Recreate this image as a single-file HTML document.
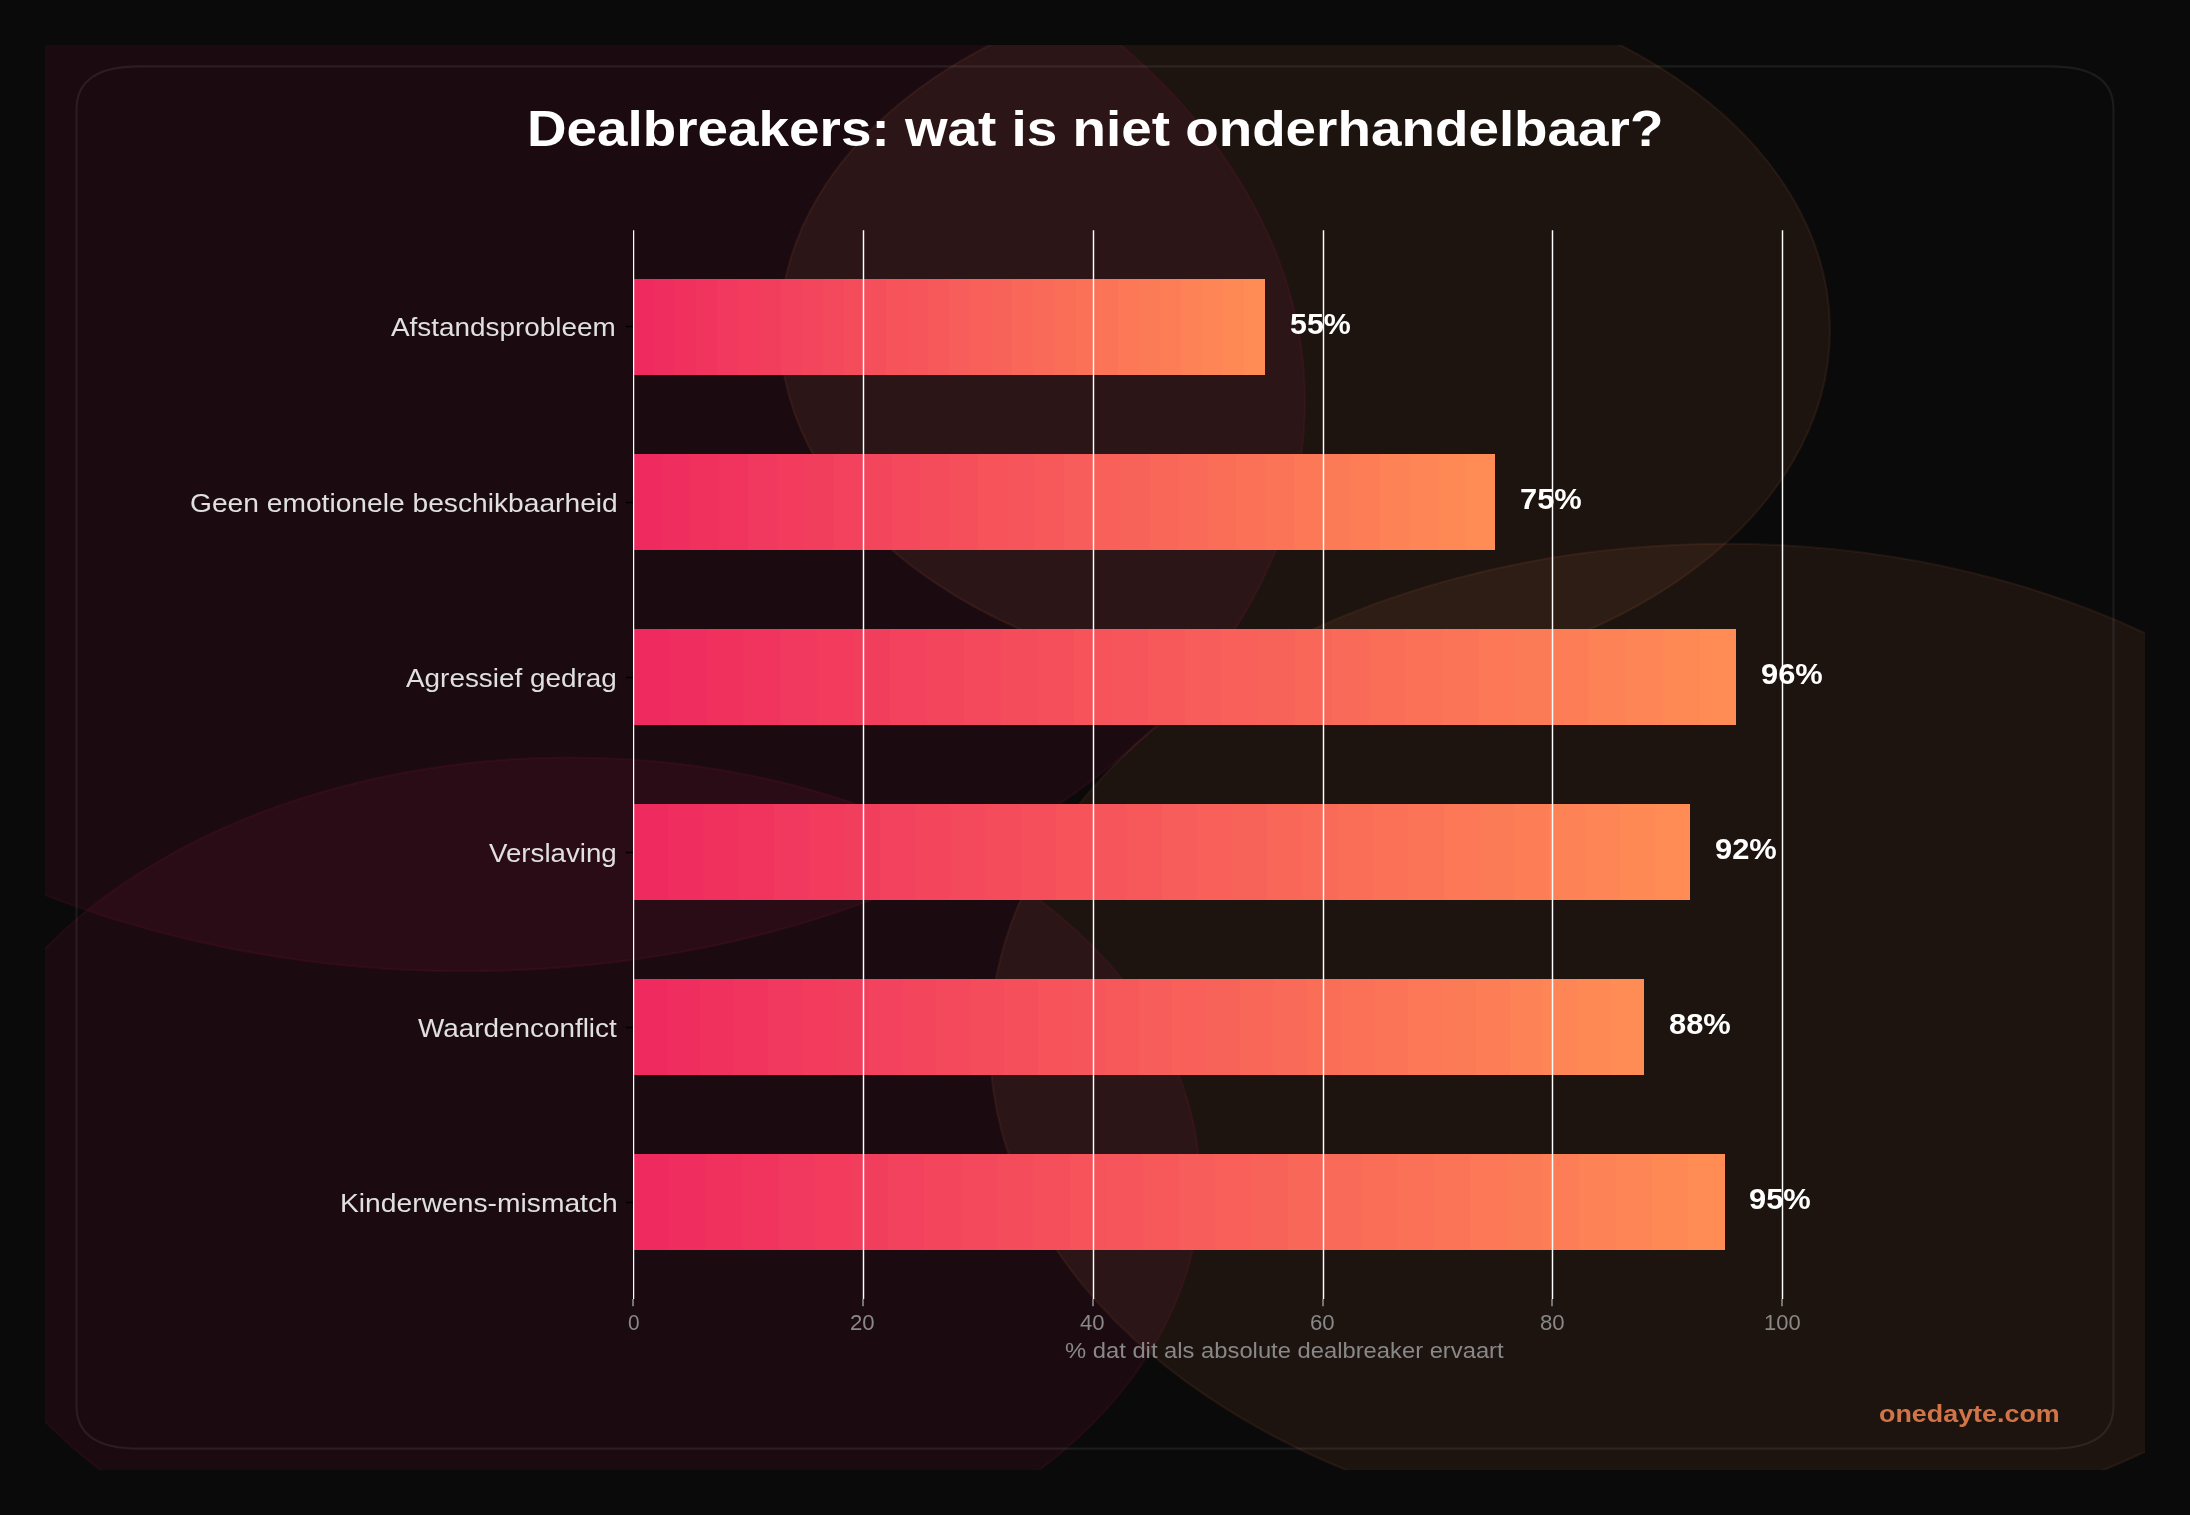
<!DOCTYPE html>
<html><head><meta charset="utf-8"><title>Dealbreakers</title><style>
html,body{margin:0;padding:0;background:#0a0a0a;width:2190px;height:1515px;overflow:hidden}
svg{display:block;will-change:transform}
text{font-family:"Liberation Sans",sans-serif}
</style></head><body>
<svg width="2190" height="1515" viewBox="0 0 2190 1515">
<defs><clipPath id="c"><rect x="45" y="45" width="2100" height="1425"/></clipPath></defs>
<rect x="0" y="0" width="2190" height="1515" fill="#0a0a0a"/>
<g clip-path="url(#c)">
<ellipse cx="465.00" cy="401.25" rx="840.00" ry="570.00" fill="#e91e63" fill-opacity="0.08" stroke="#e91e63" stroke-opacity="0.08" stroke-width="2.083"/>
<ellipse cx="570.00" cy="1185.00" rx="630.00" ry="427.50" fill="#e91e63" fill-opacity="0.08" stroke="#e91e63" stroke-opacity="0.08" stroke-width="2.083"/>
<ellipse cx="1725.00" cy="1042.50" rx="735.00" ry="498.75" fill="#ff8c55" fill-opacity="0.08" stroke="#ff8c55" stroke-opacity="0.08" stroke-width="2.083"/>
<ellipse cx="1305.00" cy="330.00" rx="525.00" ry="356.25" fill="#ff8c55" fill-opacity="0.08" stroke="#ff8c55" stroke-opacity="0.08" stroke-width="2.083"/>
</g>
<path d="M139.500,1448.625 L2050.500,1448.625 Q2113.500,1448.625 2113.500,1405.875 L2113.500,109.125 Q2113.500,66.375 2050.500,66.375 L139.500,66.375 Q76.500,66.375 76.500,109.125 L76.500,1405.875 Q76.500,1448.625 139.500,1448.625 Z" fill="none" stroke="#ffffff" stroke-opacity="0.075" stroke-width="2.083"/>
<g shape-rendering="crispEdges">
<rect x="633" y="279" width="21" height="96" fill="#ef2a5f"/>
<rect x="654" y="279" width="21" height="96" fill="#f02d5f"/>
<rect x="675" y="279" width="21" height="96" fill="#f0315e"/>
<rect x="696" y="279" width="21" height="96" fill="#f1345e"/>
<rect x="717" y="279" width="21" height="96" fill="#f1385e"/>
<rect x="738" y="279" width="21" height="96" fill="#f23b5d"/>
<rect x="759" y="279" width="22" height="96" fill="#f23e5d"/>
<rect x="781" y="279" width="21" height="96" fill="#f3425d"/>
<rect x="802" y="279" width="21" height="96" fill="#f3455c"/>
<rect x="823" y="279" width="21" height="96" fill="#f4485c"/>
<rect x="844" y="279" width="21" height="96" fill="#f54c5c"/>
<rect x="865" y="279" width="21" height="96" fill="#f54f5b"/>
<rect x="886" y="279" width="21" height="96" fill="#f6535b"/>
<rect x="907" y="279" width="21" height="96" fill="#f6565b"/>
<rect x="928" y="279" width="21" height="96" fill="#f7595a"/>
<rect x="949" y="279" width="21" height="96" fill="#f75d5a"/>
<rect x="970" y="279" width="21" height="96" fill="#f86059"/>
<rect x="991" y="279" width="21" height="96" fill="#f86359"/>
<rect x="1012" y="279" width="21" height="96" fill="#f96759"/>
<rect x="1033" y="279" width="21" height="96" fill="#f96a58"/>
<rect x="1054" y="279" width="22" height="96" fill="#fa6e58"/>
<rect x="1076" y="279" width="21" height="96" fill="#fb7158"/>
<rect x="1097" y="279" width="21" height="96" fill="#fb7457"/>
<rect x="1118" y="279" width="21" height="96" fill="#fc7857"/>
<rect x="1139" y="279" width="21" height="96" fill="#fc7b57"/>
<rect x="1160" y="279" width="21" height="96" fill="#fd7e56"/>
<rect x="1181" y="279" width="21" height="96" fill="#fd8256"/>
<rect x="1202" y="279" width="21" height="96" fill="#fe8556"/>
<rect x="1223" y="279" width="21" height="96" fill="#fe8955"/>
<rect x="1244" y="279" width="21" height="96" fill="#ff8c55"/>
<rect x="633" y="454" width="29" height="96" fill="#ef2a5f"/>
<rect x="662" y="454" width="28" height="96" fill="#f02d5f"/>
<rect x="690" y="454" width="29" height="96" fill="#f0315e"/>
<rect x="719" y="454" width="29" height="96" fill="#f1345e"/>
<rect x="748" y="454" width="29" height="96" fill="#f1385e"/>
<rect x="777" y="454" width="28" height="96" fill="#f23b5d"/>
<rect x="805" y="454" width="29" height="96" fill="#f23e5d"/>
<rect x="834" y="454" width="29" height="96" fill="#f3425d"/>
<rect x="863" y="454" width="29" height="96" fill="#f3455c"/>
<rect x="892" y="454" width="28" height="96" fill="#f4485c"/>
<rect x="920" y="454" width="29" height="96" fill="#f54c5c"/>
<rect x="949" y="454" width="29" height="96" fill="#f54f5b"/>
<rect x="978" y="454" width="29" height="96" fill="#f6535b"/>
<rect x="1007" y="454" width="28" height="96" fill="#f6565b"/>
<rect x="1035" y="454" width="29" height="96" fill="#f7595a"/>
<rect x="1064" y="454" width="29" height="96" fill="#f75d5a"/>
<rect x="1093" y="454" width="28" height="96" fill="#f86059"/>
<rect x="1121" y="454" width="29" height="96" fill="#f86359"/>
<rect x="1150" y="454" width="29" height="96" fill="#f96759"/>
<rect x="1179" y="454" width="29" height="96" fill="#f96a58"/>
<rect x="1208" y="454" width="28" height="96" fill="#fa6e58"/>
<rect x="1236" y="454" width="29" height="96" fill="#fb7158"/>
<rect x="1265" y="454" width="29" height="96" fill="#fb7457"/>
<rect x="1294" y="454" width="29" height="96" fill="#fc7857"/>
<rect x="1323" y="454" width="28" height="96" fill="#fc7b57"/>
<rect x="1351" y="454" width="29" height="96" fill="#fd7e56"/>
<rect x="1380" y="454" width="29" height="96" fill="#fd8256"/>
<rect x="1409" y="454" width="29" height="96" fill="#fe8556"/>
<rect x="1438" y="454" width="28" height="96" fill="#fe8955"/>
<rect x="1466" y="454" width="29" height="96" fill="#ff8c55"/>
<rect x="633" y="629" width="37" height="96" fill="#ef2a5f"/>
<rect x="670" y="629" width="37" height="96" fill="#f02d5f"/>
<rect x="707" y="629" width="36" height="96" fill="#f0315e"/>
<rect x="743" y="629" width="37" height="96" fill="#f1345e"/>
<rect x="780" y="629" width="37" height="96" fill="#f1385e"/>
<rect x="817" y="629" width="37" height="96" fill="#f23b5d"/>
<rect x="854" y="629" width="36" height="96" fill="#f23e5d"/>
<rect x="890" y="629" width="37" height="96" fill="#f3425d"/>
<rect x="927" y="629" width="37" height="96" fill="#f3455c"/>
<rect x="964" y="629" width="37" height="96" fill="#f4485c"/>
<rect x="1001" y="629" width="37" height="96" fill="#f54c5c"/>
<rect x="1038" y="629" width="36" height="96" fill="#f54f5b"/>
<rect x="1074" y="629" width="37" height="96" fill="#f6535b"/>
<rect x="1111" y="629" width="37" height="96" fill="#f6565b"/>
<rect x="1148" y="629" width="37" height="96" fill="#f7595a"/>
<rect x="1185" y="629" width="36" height="96" fill="#f75d5a"/>
<rect x="1221" y="629" width="37" height="96" fill="#f86059"/>
<rect x="1258" y="629" width="37" height="96" fill="#f86359"/>
<rect x="1295" y="629" width="37" height="96" fill="#f96759"/>
<rect x="1332" y="629" width="37" height="96" fill="#f96a58"/>
<rect x="1369" y="629" width="36" height="96" fill="#fa6e58"/>
<rect x="1405" y="629" width="37" height="96" fill="#fb7158"/>
<rect x="1442" y="629" width="37" height="96" fill="#fb7457"/>
<rect x="1479" y="629" width="37" height="96" fill="#fc7857"/>
<rect x="1516" y="629" width="36" height="96" fill="#fc7b57"/>
<rect x="1552" y="629" width="37" height="96" fill="#fd7e56"/>
<rect x="1589" y="629" width="37" height="96" fill="#fd8256"/>
<rect x="1626" y="629" width="37" height="96" fill="#fe8556"/>
<rect x="1663" y="629" width="37" height="96" fill="#fe8955"/>
<rect x="1700" y="629" width="36" height="96" fill="#ff8c55"/>
<rect x="633" y="804" width="35" height="96" fill="#ef2a5f"/>
<rect x="668" y="804" width="35" height="96" fill="#f02d5f"/>
<rect x="703" y="804" width="36" height="96" fill="#f0315e"/>
<rect x="739" y="804" width="35" height="96" fill="#f1345e"/>
<rect x="774" y="804" width="35" height="96" fill="#f1385e"/>
<rect x="809" y="804" width="35" height="96" fill="#f23b5d"/>
<rect x="844" y="804" width="36" height="96" fill="#f23e5d"/>
<rect x="880" y="804" width="35" height="96" fill="#f3425d"/>
<rect x="915" y="804" width="35" height="96" fill="#f3455c"/>
<rect x="950" y="804" width="35" height="96" fill="#f4485c"/>
<rect x="985" y="804" width="36" height="96" fill="#f54c5c"/>
<rect x="1021" y="804" width="35" height="96" fill="#f54f5b"/>
<rect x="1056" y="804" width="35" height="96" fill="#f6535b"/>
<rect x="1091" y="804" width="35" height="96" fill="#f6565b"/>
<rect x="1126" y="804" width="36" height="96" fill="#f7595a"/>
<rect x="1162" y="804" width="35" height="96" fill="#f75d5a"/>
<rect x="1197" y="804" width="35" height="96" fill="#f86059"/>
<rect x="1232" y="804" width="35" height="96" fill="#f86359"/>
<rect x="1267" y="804" width="36" height="96" fill="#f96759"/>
<rect x="1303" y="804" width="35" height="96" fill="#f96a58"/>
<rect x="1338" y="804" width="35" height="96" fill="#fa6e58"/>
<rect x="1373" y="804" width="35" height="96" fill="#fb7158"/>
<rect x="1408" y="804" width="36" height="96" fill="#fb7457"/>
<rect x="1444" y="804" width="35" height="96" fill="#fc7857"/>
<rect x="1479" y="804" width="35" height="96" fill="#fc7b57"/>
<rect x="1514" y="804" width="35" height="96" fill="#fd7e56"/>
<rect x="1549" y="804" width="36" height="96" fill="#fd8256"/>
<rect x="1585" y="804" width="35" height="96" fill="#fe8556"/>
<rect x="1620" y="804" width="35" height="96" fill="#fe8955"/>
<rect x="1655" y="804" width="35" height="96" fill="#ff8c55"/>
<rect x="633" y="979" width="34" height="96" fill="#ef2a5f"/>
<rect x="667" y="979" width="33" height="96" fill="#f02d5f"/>
<rect x="700" y="979" width="34" height="96" fill="#f0315e"/>
<rect x="734" y="979" width="34" height="96" fill="#f1345e"/>
<rect x="768" y="979" width="34" height="96" fill="#f1385e"/>
<rect x="802" y="979" width="33" height="96" fill="#f23b5d"/>
<rect x="835" y="979" width="34" height="96" fill="#f23e5d"/>
<rect x="869" y="979" width="34" height="96" fill="#f3425d"/>
<rect x="903" y="979" width="33" height="96" fill="#f3455c"/>
<rect x="936" y="979" width="34" height="96" fill="#f4485c"/>
<rect x="970" y="979" width="34" height="96" fill="#f54c5c"/>
<rect x="1004" y="979" width="34" height="96" fill="#f54f5b"/>
<rect x="1038" y="979" width="33" height="96" fill="#f6535b"/>
<rect x="1071" y="979" width="34" height="96" fill="#f6565b"/>
<rect x="1105" y="979" width="34" height="96" fill="#f7595a"/>
<rect x="1139" y="979" width="33" height="96" fill="#f75d5a"/>
<rect x="1172" y="979" width="34" height="96" fill="#f86059"/>
<rect x="1206" y="979" width="34" height="96" fill="#f86359"/>
<rect x="1240" y="979" width="34" height="96" fill="#f96759"/>
<rect x="1274" y="979" width="33" height="96" fill="#f96a58"/>
<rect x="1307" y="979" width="34" height="96" fill="#fa6e58"/>
<rect x="1341" y="979" width="34" height="96" fill="#fb7158"/>
<rect x="1375" y="979" width="33" height="96" fill="#fb7457"/>
<rect x="1408" y="979" width="34" height="96" fill="#fc7857"/>
<rect x="1442" y="979" width="34" height="96" fill="#fc7b57"/>
<rect x="1476" y="979" width="34" height="96" fill="#fd7e56"/>
<rect x="1510" y="979" width="33" height="96" fill="#fd8256"/>
<rect x="1543" y="979" width="34" height="96" fill="#fe8556"/>
<rect x="1577" y="979" width="34" height="96" fill="#fe8955"/>
<rect x="1611" y="979" width="33" height="96" fill="#ff8c55"/>
<rect x="633" y="1154" width="36" height="96" fill="#ef2a5f"/>
<rect x="669" y="1154" width="37" height="96" fill="#f02d5f"/>
<rect x="706" y="1154" width="36" height="96" fill="#f0315e"/>
<rect x="742" y="1154" width="37" height="96" fill="#f1345e"/>
<rect x="779" y="1154" width="36" height="96" fill="#f1385e"/>
<rect x="815" y="1154" width="36" height="96" fill="#f23b5d"/>
<rect x="851" y="1154" width="37" height="96" fill="#f23e5d"/>
<rect x="888" y="1154" width="36" height="96" fill="#f3425d"/>
<rect x="924" y="1154" width="37" height="96" fill="#f3455c"/>
<rect x="961" y="1154" width="36" height="96" fill="#f4485c"/>
<rect x="997" y="1154" width="36" height="96" fill="#f54c5c"/>
<rect x="1033" y="1154" width="37" height="96" fill="#f54f5b"/>
<rect x="1070" y="1154" width="36" height="96" fill="#f6535b"/>
<rect x="1106" y="1154" width="37" height="96" fill="#f6565b"/>
<rect x="1143" y="1154" width="36" height="96" fill="#f7595a"/>
<rect x="1179" y="1154" width="36" height="96" fill="#f75d5a"/>
<rect x="1215" y="1154" width="37" height="96" fill="#f86059"/>
<rect x="1252" y="1154" width="36" height="96" fill="#f86359"/>
<rect x="1288" y="1154" width="37" height="96" fill="#f96759"/>
<rect x="1325" y="1154" width="36" height="96" fill="#f96a58"/>
<rect x="1361" y="1154" width="36" height="96" fill="#fa6e58"/>
<rect x="1397" y="1154" width="37" height="96" fill="#fb7158"/>
<rect x="1434" y="1154" width="36" height="96" fill="#fb7457"/>
<rect x="1470" y="1154" width="37" height="96" fill="#fc7857"/>
<rect x="1507" y="1154" width="36" height="96" fill="#fc7b57"/>
<rect x="1543" y="1154" width="36" height="96" fill="#fd7e56"/>
<rect x="1579" y="1154" width="37" height="96" fill="#fd8256"/>
<rect x="1616" y="1154" width="36" height="96" fill="#fe8556"/>
<rect x="1652" y="1154" width="36" height="96" fill="#fe8955"/>
<rect x="1688" y="1154" width="37" height="96" fill="#ff8c55"/>
</g>
<rect x="633" y="230.25" width="1.229" height="1068.75" fill="#ffffff" fill-opacity="1.0"/>
<line x1="633.0" y1="1299" x2="633.0" y2="1306.3" stroke="#888888" stroke-width="1.667"/>
<line x1="863.5" y1="230.25" x2="863.5" y2="1299" stroke="#ffffff" stroke-opacity="1.0" stroke-width="1.458"/>
<line x1="863.0" y1="1299" x2="863.0" y2="1306.3" stroke="#888888" stroke-width="1.667"/>
<line x1="1093.5" y1="230.25" x2="1093.5" y2="1299" stroke="#ffffff" stroke-opacity="1.0" stroke-width="1.458"/>
<line x1="1093.0" y1="1299" x2="1093.0" y2="1306.3" stroke="#888888" stroke-width="1.667"/>
<line x1="1323.5" y1="230.25" x2="1323.5" y2="1299" stroke="#ffffff" stroke-opacity="1.0" stroke-width="1.458"/>
<line x1="1323.0" y1="1299" x2="1323.0" y2="1306.3" stroke="#888888" stroke-width="1.667"/>
<line x1="1552.5" y1="230.25" x2="1552.5" y2="1299" stroke="#ffffff" stroke-opacity="1.0" stroke-width="1.458"/>
<line x1="1552.0" y1="1299" x2="1552.0" y2="1306.3" stroke="#888888" stroke-width="1.667"/>
<line x1="1782.5" y1="230.25" x2="1782.5" y2="1299" stroke="#ffffff" stroke-opacity="1.0" stroke-width="1.458"/>
<line x1="1782.0" y1="1299" x2="1782.0" y2="1306.3" stroke="#888888" stroke-width="1.667"/>
<line x1="625.7" y1="326.5" x2="633" y2="326.5" stroke="#000000" stroke-width="1.667"/>
<line x1="625.7" y1="502.5" x2="633" y2="502.5" stroke="#000000" stroke-width="1.667"/>
<line x1="625.7" y1="677.5" x2="633" y2="677.5" stroke="#000000" stroke-width="1.667"/>
<line x1="625.7" y1="852.5" x2="633" y2="852.5" stroke="#000000" stroke-width="1.667"/>
<line x1="625.7" y1="1027.5" x2="633" y2="1027.5" stroke="#000000" stroke-width="1.667"/>
<line x1="625.7" y1="1202.5" x2="633" y2="1202.5" stroke="#000000" stroke-width="1.667"/>
<text x="527.00" y="145.50" font-size="49.32" fill="#ffffff" font-weight="bold" textLength="1136.40" lengthAdjust="spacingAndGlyphs">Dealbreakers: wat is niet onderhandelbaar?</text>
<text x="391.00" y="336.00" font-size="26.38" fill="#e0e0e0" textLength="224.75" lengthAdjust="spacingAndGlyphs">Afstandsprobleem</text>
<text x="190.00" y="512.00" font-size="26.38" fill="#e0e0e0" textLength="427.76" lengthAdjust="spacingAndGlyphs">Geen emotionele beschikbaarheid</text>
<text x="406.00" y="687.00" font-size="26.38" fill="#e0e0e0" textLength="210.75" lengthAdjust="spacingAndGlyphs">Agressief gedrag</text>
<text x="489.00" y="862.00" font-size="26.38" fill="#e0e0e0" textLength="127.75" lengthAdjust="spacingAndGlyphs">Verslaving</text>
<text x="418.00" y="1037.00" font-size="26.38" fill="#e0e0e0" textLength="198.75" lengthAdjust="spacingAndGlyphs">Waardenconflict</text>
<text x="340.00" y="1212.00" font-size="26.38" fill="#e0e0e0" textLength="277.79" lengthAdjust="spacingAndGlyphs">Kinderwens-mismatch</text>
<text x="1290.00" y="334.00" font-size="28.57" fill="#ffffff" font-weight="bold" textLength="60.82" lengthAdjust="spacingAndGlyphs">55%</text>
<text x="1520.00" y="509.00" font-size="28.57" fill="#ffffff" font-weight="bold" textLength="61.81" lengthAdjust="spacingAndGlyphs">75%</text>
<text x="1761.00" y="684.00" font-size="28.57" fill="#ffffff" font-weight="bold" textLength="61.82" lengthAdjust="spacingAndGlyphs">96%</text>
<text x="1715.00" y="859.00" font-size="28.57" fill="#ffffff" font-weight="bold" textLength="61.82" lengthAdjust="spacingAndGlyphs">92%</text>
<text x="1669.00" y="1034.00" font-size="28.57" fill="#ffffff" font-weight="bold" textLength="61.82" lengthAdjust="spacingAndGlyphs">88%</text>
<text x="1749.00" y="1209.00" font-size="28.57" fill="#ffffff" font-weight="bold" textLength="61.82" lengthAdjust="spacingAndGlyphs">95%</text>
<text x="628.00" y="1330.00" font-size="22.14" fill="#888888" textLength="11.62" lengthAdjust="spacingAndGlyphs">0</text>
<text x="850.00" y="1330.00" font-size="22.14" fill="#888888" textLength="24.70" lengthAdjust="spacingAndGlyphs">20</text>
<text x="1080.00" y="1330.00" font-size="22.14" fill="#888888" textLength="24.62" lengthAdjust="spacingAndGlyphs">40</text>
<text x="1310.00" y="1330.00" font-size="22.14" fill="#888888" textLength="24.70" lengthAdjust="spacingAndGlyphs">60</text>
<text x="1540.00" y="1330.00" font-size="22.14" fill="#888888" textLength="24.70" lengthAdjust="spacingAndGlyphs">80</text>
<text x="1764.00" y="1330.00" font-size="22.14" fill="#888888" textLength="36.67" lengthAdjust="spacingAndGlyphs">100</text>
<text x="1065.00" y="1358.00" font-size="21.98" fill="#888888" textLength="438.63" lengthAdjust="spacingAndGlyphs">% dat dit als absolute dealbreaker ervaart</text>
<text x="1879.00" y="1422.00" font-size="24.18" fill="#ff8c55" font-weight="bold" fill-opacity="0.8" textLength="180.70" lengthAdjust="spacingAndGlyphs">onedayte.com</text>
</svg>
</body></html>
